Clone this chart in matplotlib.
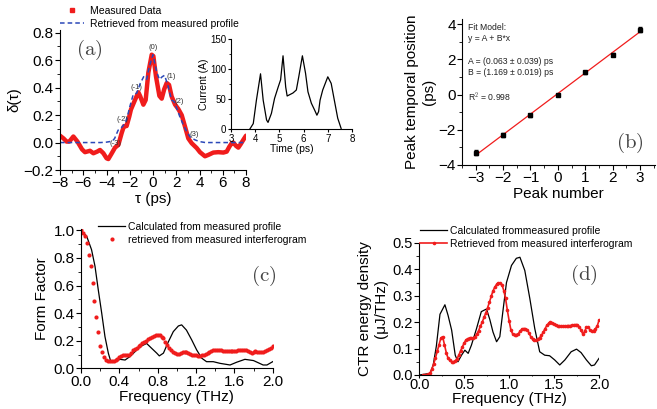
import numpy as np
import matplotlib
matplotlib.use('Agg')
import matplotlib.pyplot as plt
from matplotlib.ticker import MultipleLocator, FormatStrFormatter

plt.rcParams['font.family'] = ['Liberation Sans', 'DejaVu Sans']
plt.rcParams['mathtext.fontset'] = 'cm'

RED = '#f01c1c'

# ---- (a) autocorrelation ----
tau_meas = [-8.0, -7.7, -7.43, -7.2, -6.85, -6.5, -6.1, -5.85, -5.42, -5.13, -4.8, -4.56,
            -4.27, -3.99, -3.84, -3.56, -3.27, -2.98, -2.7, -2.5, -2.27, -2.04, -1.9, -1.55,
            -1.26, -1.1, -0.83, -0.63, -0.4, -0.11, 0.03, 0.26, 0.55, 0.75, 0.97, 1.18, 1.38,
            1.6, 1.9, 2.18, 2.47, 2.75, 3.04, 3.33, 3.76, 4.04, 4.47, 4.76, 5.19, 5.62, 6.05,
            6.34, 6.57, 6.77, 6.91, 7.14, 7.34, 7.54, 7.77, 8.0]
delta_meas = [0.05, 0.03, 0.007, 0.007, 0.044, 0.007, -0.05, -0.07, -0.06, -0.078, -0.066,
              -0.054, -0.078, -0.115, -0.12, -0.08, -0.037, -0.017, 0.068, 0.12, 0.12, 0.19,
              0.24, 0.31, 0.366, 0.337, 0.276, 0.31, 0.51, 0.64, 0.63, 0.48, 0.34, 0.32, 0.39,
              0.434, 0.42, 0.337, 0.276, 0.244, 0.2, 0.117, 0.03, -0.005, -0.04, -0.07, -0.1,
              -0.09, -0.073, -0.07, -0.073, -0.066, -0.03, -0.005, 0.0, -0.024, -0.037, -0.012,
              0.02, 0.05]
tau_ret = [-8.0, -4.5, -4.0, -3.5, -3.3, -3.0, -2.7, -2.4, -2.2, -2.0, -1.7, -1.4, -1.1, -0.8,
           -0.55, -0.3, 0.0, 0.3, 0.55, 0.8, 1.0, 1.3, 1.6, 1.8, 2.0, 2.3, 2.6, 2.9, 3.2, 3.6,
           4.0, 4.5, 8.0]
delta_ret = [0.0, 0.0, 0.003, 0.01, 0.03, 0.09, 0.11, 0.14, 0.19, 0.26, 0.35, 0.36, 0.43, 0.48,
             0.46, 0.56, 0.64, 0.52, 0.46, 0.48, 0.49, 0.41, 0.31, 0.30, 0.26, 0.19, 0.13, 0.08,
             0.04, 0.02, 0.007, 0.0, 0.0]
peak_names = ['(-3)', '(-2)', '(-1)', '(0)', '(1)', '(2)', '(3)']
peak_tau = [-3.25, -2.6, -1.45, 0.0, 1.55, 2.25, 3.5]
peak_delta = [-0.01, 0.17, 0.40, 0.69, 0.48, 0.30, 0.06]

# inset current profile
time_ps = [3.78, 3.92, 4.05, 4.22, 4.33, 4.47, 4.53, 4.67, 4.8, 4.95, 5.05, 5.15, 5.26, 5.32,
           5.56, 5.7, 5.8, 5.95, 6.08, 6.18, 6.32, 6.45, 6.55, 6.62, 6.68, 6.79, 7.0, 7.14,
           7.27, 7.41, 7.55]
current_A = [0, 9, 48, 92, 48, 15, 11, 26, 51, 70, 82, 122, 70, 55, 60, 65, 87, 122, 93, 62,
             43, 32, 23, 29, 48, 65, 87, 76, 48, 18, 1]

# ---- (b) peak positions ----
peak_num = [-3, -2, -1, 0, 1, 2, 3]
peak_pos = [-3.30, -2.28, -1.17, 0.0, 1.28, 2.28, 3.70]
peak_err = [0.15, 0.1, 0.08, 0.06, 0.08, 0.1, 0.15]
fit_A, fit_B = 0.063, 1.169

# ---- (c) form factor ----
ff_freq_calc = [0.0, 0.06, 0.11, 0.146, 0.18, 0.216, 0.25, 0.285, 0.313, 0.355, 0.407, 0.46,
                0.51, 0.563, 0.616, 0.685, 0.737, 0.79, 0.817, 0.86, 0.91, 0.963, 1.016, 1.05,
                1.1, 1.155, 1.207, 1.26, 1.31, 1.38, 1.45, 1.555, 1.624, 1.71, 1.8, 1.9, 1.94,
                2.0]
ff_calc = [1.0, 0.956, 0.86, 0.74, 0.57, 0.40, 0.23, 0.11, 0.044, 0.048, 0.065, 0.06, 0.085,
           0.12, 0.157, 0.18, 0.145, 0.11, 0.09, 0.11, 0.19, 0.266, 0.307, 0.315, 0.277, 0.206,
           0.133, 0.073, 0.048, 0.048, 0.036, 0.024, 0.044, 0.065, 0.056, 0.024, 0.024, 0.048]
ff_meas = [1.00, 0.98, 0.96, 0.91, 0.82, 0.74, 0.62, 0.49, 0.37, 0.26, 0.16, 0.12, 0.08, 0.06,
           0.05, 0.05, 0.05, 0.055, 0.06, 0.07, 0.08, 0.09, 0.10, 0.10, 0.10, 0.10, 0.11, 0.13,
           0.14, 0.15, 0.16, 0.17, 0.18, 0.19, 0.20, 0.21, 0.22, 0.23, 0.235, 0.24, 0.24, 0.24,
           0.23, 0.22, 0.19, 0.17, 0.15, 0.13, 0.12, 0.11, 0.105, 0.105, 0.11, 0.115, 0.12,
           0.115, 0.11, 0.105, 0.10, 0.10, 0.095, 0.09, 0.09, 0.095, 0.10, 0.105, 0.11, 0.12,
           0.125, 0.13, 0.135, 0.135, 0.13, 0.13, 0.125, 0.125, 0.125, 0.125, 0.125, 0.125,
           0.125, 0.125, 0.13, 0.13, 0.13, 0.13, 0.13, 0.125, 0.12, 0.11, 0.115, 0.125, 0.12,
           0.115, 0.12, 0.12, 0.125, 0.13, 0.14, 0.15, 0.165]
ff_freq_meas = np.arange(len(ff_meas)) * 0.02

# ---- (d) CTR energy density ----
ctr_freq_calc = [0.0, 0.12, 0.155, 0.19, 0.23, 0.285, 0.32, 0.36, 0.4, 0.43, 0.47, 0.507,
                 0.544, 0.58, 0.637, 0.69, 0.748, 0.785, 0.82, 0.86, 0.896, 0.93, 0.97, 1.026,
                 1.08, 1.12, 1.174, 1.23, 1.285, 1.34, 1.396, 1.45, 1.507, 1.563, 1.62, 1.69,
                 1.75, 1.8, 1.86, 1.915, 1.95, 2.0]
ctr_calc = [0.0, 0.006, 0.038, 0.11, 0.23, 0.266, 0.226, 0.17, 0.075, 0.05, 0.075, 0.094,
            0.082, 0.113, 0.176, 0.24, 0.25, 0.21, 0.163, 0.126, 0.145, 0.24, 0.35, 0.415,
            0.442, 0.446, 0.396, 0.29, 0.176, 0.088, 0.075, 0.073, 0.057, 0.038, 0.057, 0.088,
            0.098, 0.085, 0.057, 0.035, 0.038, 0.063]
ctr_meas = [0.0, 0.0, 0.0, 0.002, 0.008, 0.022, 0.042, 0.065, 0.09, 0.115, 0.14, 0.145, 0.115,
            0.085, 0.063, 0.055, 0.05, 0.05, 0.053, 0.062, 0.075, 0.092, 0.107, 0.122, 0.133,
            0.138, 0.14, 0.14, 0.14, 0.145, 0.155, 0.168, 0.185, 0.2, 0.218, 0.235, 0.255,
            0.275, 0.298, 0.318, 0.333, 0.343, 0.348, 0.348, 0.342, 0.32, 0.29, 0.245, 0.205,
            0.17, 0.155, 0.153, 0.153, 0.155, 0.165, 0.173, 0.176, 0.175, 0.172, 0.16, 0.145,
            0.136, 0.132, 0.132, 0.135, 0.142, 0.15, 0.162, 0.176, 0.188, 0.196, 0.2, 0.198,
            0.194, 0.19, 0.187, 0.185, 0.184, 0.184, 0.185, 0.186, 0.187, 0.187, 0.188, 0.19,
            0.191, 0.19, 0.183, 0.17, 0.155, 0.165, 0.182, 0.18, 0.172, 0.165, 0.168, 0.175,
            0.185, 0.207]
ctr_freq_meas = 0.04 + np.arange(len(ctr_meas)) * 0.02


def style(ax, lab=11):
    for s in ['top', 'right']:
        ax.spines[s].set_visible(False)
    ax.tick_params(which='both', direction='out', labelsize=lab, pad=1)
    ax.tick_params(which='major', length=3.5)
    ax.tick_params(which='minor', length=2)


def px(l, t, r, b):
    W, H = 657, 409
    return [l / W, 1 - b / H, (r - l) / W, (b - t) / H]


def panel_tag(ax, x, y, s):
    ax.text(x, y, r'$(\mathrm{%s})$' % s, transform=ax.transAxes, fontsize=15,
            color='#444444', ha='left', va='center')


fig = plt.figure(figsize=(6.57, 4.09), dpi=100)

# (a)
ax = fig.add_axes(px(60, 30, 246, 170))
ax.plot(tau_meas, delta_meas, color=RED, lw=3.2, solid_capstyle='round')
ax.plot(tau_ret, delta_ret, color='#2b48b8', lw=1.1, ls=(0, (3, 2)))
for name, xx, yy in zip(peak_names, peak_tau, peak_delta):
    ax.text(xx, yy, name, fontsize=5.5, color='#333333', ha='center', va='center')
ax.set_xlim(-8, 8)
ax.set_ylim(-0.2, 0.82)
ax.xaxis.set_major_locator(MultipleLocator(2))
ax.xaxis.set_minor_locator(MultipleLocator(1))
ax.yaxis.set_major_locator(MultipleLocator(0.2))
ax.yaxis.set_minor_locator(MultipleLocator(0.1))
style(ax)
ax.set_xlabel('τ (ps)', fontsize=11, labelpad=1)
ax.set_ylabel('δ(τ)', fontsize=11, labelpad=2)
panel_tag(ax, 0.085, 0.86, 'a')
h1 = plt.Line2D([], [], color=RED, marker='s', ms=3, ls='none')
h2 = plt.Line2D([], [], color='#2b48b8', lw=1.1, ls=(0, (3, 2)))
ax.legend([h1, h2], ['Measured Data', 'Retrieved from measured profile'],
          loc='upper left', bbox_to_anchor=(60 / 657, 1 - 6 / 409),
          bbox_transform=fig.transFigure, frameon=False, fontsize=7.5,
          handlelength=2.3, handletextpad=0.6, labelspacing=0.25, borderpad=0,
          borderaxespad=0)

ins = fig.add_axes(px(231, 39, 352, 129))
ins.patch.set_alpha(0)
ins.plot(time_ps, current_A, color='black', lw=0.9)
ins.set_xlim(3, 8)
ins.set_ylim(0, 150)
ins.xaxis.set_major_locator(MultipleLocator(1))
ins.yaxis.set_major_locator(MultipleLocator(50))
ins.yaxis.set_minor_locator(MultipleLocator(25))
style(ins, lab=7)
ins.tick_params(which='major', length=2.5)
ins.tick_params(which='minor', length=1.5)
ins.set_xlabel('Time (ps)', fontsize=7.5, labelpad=0)
ins.set_ylabel('Current (A)', fontsize=7.5, labelpad=1)

# (b)
ax = fig.add_axes(px(462, 19, 655, 165))
ax.errorbar(peak_num, peak_pos, yerr=peak_err, fmt='s', color='black', ms=3.5,
            elinewidth=0.8, capsize=1.5)
xf = np.array([peak_num[0], peak_num[-1]])
ax.plot(xf, fit_A + fit_B * xf, color=RED, lw=0.9)
ax.set_xlim(-3.5, 3.55)
ax.set_ylim(-4, 4.3)
ax.xaxis.set_major_locator(MultipleLocator(1))
ax.xaxis.set_minor_locator(MultipleLocator(0.5))
ax.yaxis.set_major_locator(MultipleLocator(2))
ax.yaxis.set_minor_locator(MultipleLocator(1))
style(ax)
ax.set_xlabel('Peak number', fontsize=11, labelpad=1)
ax.set_ylabel('Peak temporal position\n(ps)', fontsize=11, labelpad=2)
ax.text(0.03, 0.97, 'Fit Model:\ny = A + B*x\n\nA = (0.063 ± 0.039) ps\n'
        'B = (1.169 ± 0.019) ps\n\nR$^2$ = 0.998', transform=ax.transAxes,
        fontsize=6.2, va='top', ha='left', linespacing=1.3, color='#222222')
panel_tag(ax, 0.8, 0.15, 'b')

# (c)
ax = fig.add_axes(px(81, 229, 272.7, 368.3))
ax.plot(ff_freq_calc, ff_calc, color='black', lw=0.9,
        label='Calculated from measured profile')
ax.plot(ff_freq_meas, ff_meas, 'o', color=RED, ms=3, mec='none',
        label='retrieved from measured interferogram')
ax.set_xlim(0, 2.0)
ax.set_ylim(0, 1.01)
ax.xaxis.set_major_locator(MultipleLocator(0.4))
ax.xaxis.set_minor_locator(MultipleLocator(0.2))
ax.yaxis.set_major_locator(MultipleLocator(0.2))
ax.yaxis.set_minor_locator(MultipleLocator(0.1))
ax.xaxis.set_major_formatter(FormatStrFormatter('%.1f'))
style(ax)
ax.set_xlabel('Frequency (THz)', fontsize=11, labelpad=1)
ax.set_ylabel('Form Factor', fontsize=11, labelpad=3)
panel_tag(ax, 0.885, 0.66, 'c')
ax.legend(loc='upper left', bbox_to_anchor=(98 / 657, 1 - 222 / 409),
          bbox_transform=fig.transFigure, frameon=False, fontsize=7.5,
          handlelength=2.6, handletextpad=0.3, labelspacing=0.25, borderpad=0,
          borderaxespad=0)

# (d)
ax = fig.add_axes(px(419.3, 243, 599, 375))
ax.plot(ctr_freq_calc, ctr_calc, color='black', lw=0.9,
        label='Calculated frommeasured profile')
ax.plot(ctr_freq_meas, ctr_meas, '-o', color=RED, lw=1.2, ms=2.6, mec='none',
        label='Retrieved from measured interferogram')
ax.set_xlim(0, 2.0)
ax.set_ylim(0, 0.5)
ax.xaxis.set_major_locator(MultipleLocator(0.5))
ax.xaxis.set_minor_locator(MultipleLocator(0.25))
ax.yaxis.set_major_locator(MultipleLocator(0.1))
ax.yaxis.set_minor_locator(MultipleLocator(0.05))
style(ax, lab=10.5)
ax.tick_params(axis='x', which='major', length=2, pad=0)
ax.tick_params(axis='x', which='minor', length=1)
ax.set_xlabel('Frequency (THz)', fontsize=11, labelpad=0)
ax.set_ylabel('CTR energy density\n(μJ/THz)', fontsize=11, labelpad=3)
panel_tag(ax, 0.84, 0.76, 'd')
ax.legend(loc='upper left', bbox_to_anchor=(420 / 657, 1 - 226 / 409),
          bbox_transform=fig.transFigure, frameon=False, fontsize=7.5,
          handlelength=2.6, handletextpad=0.3, labelspacing=0.25, borderpad=0,
          borderaxespad=0)

fig.savefig('out.png', dpi=100)
